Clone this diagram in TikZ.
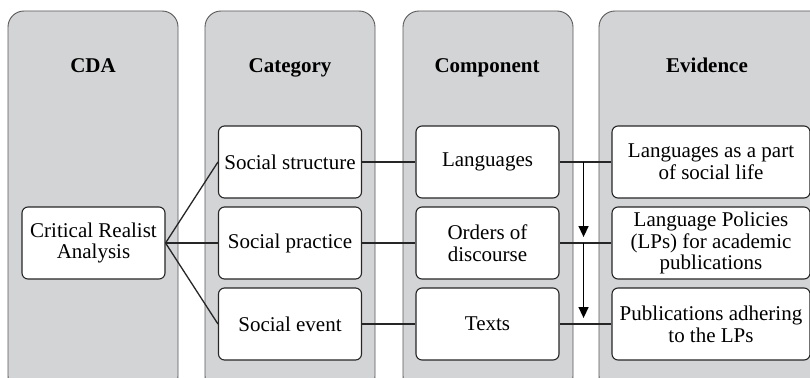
\documentclass[tikz,border=0pt]{standalone}
\usepackage{fontspec}
\setmainfont{Liberation Serif}
\usetikzlibrary{arrows.meta}

\definecolor{colgray}{HTML}{D3D4D6}
\definecolor{edgegray}{HTML}{5A5A5A}

\newcommand{\boxfont}{\fontsize{21}{21.7}\selectfont}

\tikzset{
    column/.style={draw=edgegray, line width=0.9pt, fill=colgray, rounded corners=16pt},
    header/.style={font=\boxfont\bfseries, anchor=base},
    box/.style={draw=black!85, line width=1.1pt, fill=white, rounded corners=6pt,
                minimum width=143pt, minimum height=72pt, align=center, inner sep=2pt,
                font=\boxfont},
    link/.style={line width=1.3pt, black!85},
    down/.style={line width=1.3pt, -{Triangle[length=11pt,width=10pt]}, shorten >=6pt}
}

\begin{document}
\begin{tikzpicture}[x=1pt, y=-1pt]
        \clip (0,0) rectangle (810,377);
        \fill[white] (0,0) rectangle (810,377);

        % grey columns
        \draw[column] (8,11) rectangle (178,392);
        \draw[column] (205,11) rectangle (375,392);
        \draw[column] (403,11) rectangle (573,392);
        \draw[column] (599,11) rectangle (830,392);

        % column headers
        \node[header] (hcda) at (93,73) {CDA};
        \node[header] (hcat) at (290,73) {Category};
        \node[header] (hcomp) at (487,73) {Component};
        \node[header] (hevid) at (707,73) {Evidence};

        % boxes
        \node[box] (cra) at (93.5,243) {Critical Realist\\Analysis};

        \node[box] (s1) at (290,162) {Social structure};
        \node[box] (s2) at (290,243) {Social practice};
        \node[box] (s3) at (290,324) {Social event};

        \node[box] (c1) at (487.5,162) {Languages};
        \node[box] (c2) at (487.5,243) {Orders of\\discourse};
        \node[box] (c3) at (487.5,324) {Texts};

        \node[box, minimum width=198pt] (e1) at (711,162) {Languages as a part\\of social life};
        \node[box, minimum width=198pt] (e2) at (711,243) {Language Policies\\(LPs) for academic\\publications};
        \node[box, minimum width=198pt] (e3) at (711,324) {Publications adhering\\to the LPs};

        % links
        \draw[link] (cra.east) -- (s1.west);
        \draw[link] (cra.east) -- (s2.west);
        \draw[link] (cra.east) -- (s3.west);

        \draw[link] (s1) -- (c1);
        \draw[link] (s2) -- (c2);
        \draw[link] (s3) -- (c3);

        \draw[link] (c1) -- (e1);
        \draw[link] (c2) -- (e2);
        \draw[link] (c3) -- (e3);

        % downward arrows
        \coordinate (v1) at ([xshift=24pt]c1.east);
        \coordinate (v2) at ([xshift=24pt]c2.east);
        \draw[down] (v1) -- (v1 |- e2.west);
        \draw[down] (v2) -- (v2 |- e3.west);
\end{tikzpicture}
\end{document}
